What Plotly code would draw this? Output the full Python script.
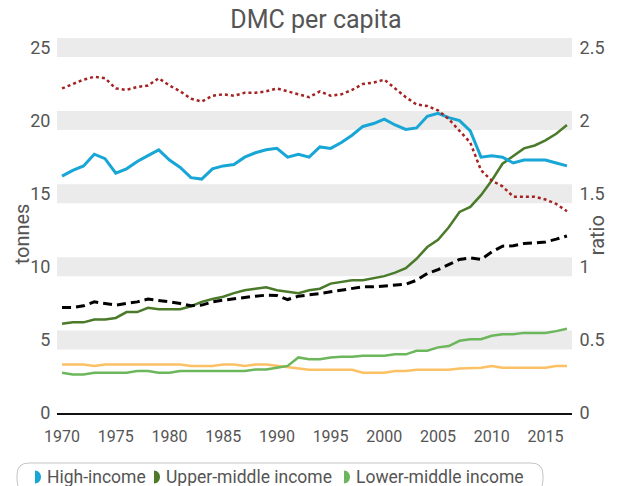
import plotly.graph_objects as go

years = list(range(1970, 2018))

high_income = [16.2, 16.6, 16.9, 17.7, 17.4, 16.4, 16.7, 17.2, 17.6, 18.0,
               17.3, 16.8, 16.1, 16.0, 16.7, 16.9, 17.0, 17.5, 17.8, 18.0,
               18.1, 17.5, 17.7, 17.5, 18.2, 18.1, 18.5, 19.0, 19.6, 19.8,
               20.1, 19.7, 19.4, 19.5, 20.3, 20.5, 20.2, 20.0, 19.3, 17.5,
               17.6, 17.5, 17.1, 17.3, 17.3, 17.3, 17.1, 16.9]
upper_middle = [6.1, 6.2, 6.2, 6.4, 6.4, 6.5, 6.9, 6.9, 7.2, 7.1,
                7.1, 7.1, 7.3, 7.6, 7.8, 7.95, 8.2, 8.4, 8.5, 8.6,
                8.4, 8.3, 8.2, 8.4, 8.5, 8.85, 8.97, 9.08, 9.08, 9.2,
                9.36, 9.6, 9.9, 10.55, 11.35, 11.85, 12.7, 13.75, 14.1, 14.9,
                15.9, 17.05, 17.55, 18.1, 18.3, 18.65, 19.1, 19.7]
lower_middle = [2.76, 2.64, 2.64, 2.76, 2.76, 2.76, 2.76, 2.87, 2.87, 2.76,
                2.76, 2.87, 2.87, 2.87, 2.87, 2.87, 2.87, 2.87, 2.98, 2.98,
                3.1, 3.22, 3.8, 3.67, 3.67, 3.8, 3.85, 3.85, 3.92, 3.92,
                3.92, 4.01, 4.01, 4.26, 4.26, 4.49, 4.58, 4.94, 5.05, 5.05,
                5.28, 5.39, 5.39, 5.48, 5.48, 5.48, 5.6, 5.76]
low_income = [3.32, 3.32, 3.32, 3.22, 3.32, 3.32, 3.32, 3.32, 3.32, 3.32,
              3.32, 3.32, 3.22, 3.22, 3.22, 3.32, 3.32, 3.22, 3.32, 3.32,
              3.22, 3.17, 3.05, 2.96, 2.96, 2.96, 2.96, 2.96, 2.76, 2.76,
              2.76, 2.87, 2.87, 2.96, 2.96, 2.96, 2.96, 3.05, 3.05, 3.1,
              3.22, 3.1, 3.1, 3.1, 3.1, 3.1, 3.22, 3.22]
world = [7.22, 7.22, 7.33, 7.6, 7.49, 7.38, 7.49, 7.6, 7.79, 7.72,
         7.6, 7.49, 7.33, 7.38, 7.6, 7.72, 7.79, 7.9, 7.99, 8.06,
         8.04, 7.76, 7.99, 8.06, 8.17, 8.29, 8.4, 8.51, 8.63, 8.63,
         8.7, 8.74, 8.81, 9.08, 9.54, 9.81, 10.18, 10.5, 10.61, 10.5,
         11.02, 11.41, 11.44, 11.59, 11.63, 11.7, 11.89, 12.11]
# ratio high-income / world, right axis
ratio = [2.22, 2.25, 2.28, 2.30, 2.29, 2.22, 2.21, 2.23, 2.24, 2.29,
         2.24, 2.20, 2.15, 2.13, 2.17, 2.18, 2.17, 2.19, 2.19, 2.20,
         2.22, 2.20, 2.18, 2.16, 2.20, 2.17, 2.18, 2.21, 2.25, 2.26,
         2.28, 2.22, 2.16, 2.11, 2.10, 2.07, 2.01, 1.93, 1.85, 1.66,
         1.59, 1.55, 1.48, 1.48, 1.48, 1.46, 1.43, 1.38]

legend_names = ["High-income", "Upper-middle income", "Lower-middle income"]
left_ticks = [5, 10, 15, 20, 25]

BLUE = "#17a6d6"
DGREEN = "#4a7a2a"
LGREEN = "#6cb65b"
ORANGE = "#fcc164"
RED = "#a52222"
TXT = "#555555"

fig = go.Figure()
fig.add_trace(go.Scatter(x=years, y=low_income, mode="lines",
                         line=dict(color=ORANGE, width=2.5), name="Low-income"))
fig.add_trace(go.Scatter(x=years, y=lower_middle, mode="lines",
                         line=dict(color=LGREEN, width=2.5), name=legend_names[2]))
fig.add_trace(go.Scatter(x=years, y=upper_middle, mode="lines",
                         line=dict(color=DGREEN, width=2.5), name=legend_names[1]))
fig.add_trace(go.Scatter(x=years, y=high_income, mode="lines",
                         line=dict(color=BLUE, width=3), name=legend_names[0]))
fig.add_trace(go.Scatter(x=years, y=world, mode="lines",
                         line=dict(color="black", width=3, dash="9px,5px"), name="World"))
fig.add_trace(go.Scatter(x=years, y=ratio, mode="lines", yaxis="y2",
                         line=dict(color=RED, width=2.5, dash="dot"), name="Ratio"))

# grey bands behind each major tick
for t in left_ticks:
    fig.add_shape(type="rect", xref="paper", x0=0, x1=1, yref="y",
                  y0=t - 0.65, y1=t + 0.65, fillcolor="#ebebeb",
                  line=dict(width=0), layer="below")

# hand-made legend, in pixels relative to the bottom-left of the plot area
L, R, T, B, r = -40, 486, -50, -79, 12
path = (f"M {L+r},{T} L {R-r},{T} Q {R},{T} {R},{T-r} L {R},{B+r} "
        f"Q {R},{B} {R-r},{B} L {L+r},{B} Q {L},{B} {L},{B+r} "
        f"L {L},{T-r} Q {L},{T} {L+r},{T} Z")
fig.add_shape(type="path", path=path, xref="paper", yref="paper",
              xsizemode="pixel", ysizemode="pixel", xanchor=0, yanchor=0,
              line=dict(color="#c4c4c4", width=1))

plot_w = 515
cy, rx, ry, k = -64, 6, 6.5, 0.5523
for name, col, sx in zip(legend_names, [BLUE, DGREEN, LGREEN], [-22, 97, 287]):
    half = (f"M {sx},{cy+ry} C {sx+k*rx},{cy+ry} {sx+rx},{cy+k*ry} {sx+rx},{cy} "
            f"C {sx+rx},{cy-k*ry} {sx+k*rx},{cy-ry} {sx},{cy-ry} Z")
    fig.add_shape(type="path", path=half, xref="paper", yref="paper",
                  xsizemode="pixel", ysizemode="pixel", xanchor=0, yanchor=0,
                  fillcolor=col, line=dict(width=0))
    fig.add_annotation(text=name, xref="paper", yref="paper",
                       x=(sx + 10) / plot_w, y=-0.1704,
                       xanchor="left", yanchor="middle", showarrow=False,
                       font=dict(size=17.5, color=TXT))

# axis titles
fig.add_annotation(text="tonnes", xref="paper", yref="paper", x=-0.068, y=0.479,
                   xanchor="center", yanchor="middle",
                   textangle=-90, showarrow=False, font=dict(size=20, color=TXT))
fig.add_annotation(text="ratio", xref="paper", yref="paper", x=1.0485, y=0.474,
                   xanchor="center", yanchor="middle",
                   textangle=-90, showarrow=False, font=dict(size=20, color=TXT))

# the page body adds an 8px offset, so the margins are shifted by it
fig.update_layout(
    width=622,
    height=486,
    margin=dict(l=49, r=58, t=29.5, b=81),
    paper_bgcolor="white",
    plot_bgcolor="white",
    showlegend=False,
    font=dict(family="Roboto", color=TXT),
    title=dict(text="DMC per capita", x=0.495, xanchor="center", y=0.976,
               yanchor="middle", font=dict(size=25, color=TXT)),
    xaxis=dict(
        range=[1969.53, 2017.47], automargin=False,
        tickvals=[1970, 1975, 1980, 1985, 1990, 1995, 2000, 2005, 2010, 2015],
        showgrid=False, zeroline=False,
        showline=True, linecolor="#111111", linewidth=1.5,
        ticks="outside", ticklen=8, tickcolor="rgba(0,0,0,0)",
        tickfont=dict(size=16, color=TXT),
    ),
    yaxis=dict(
        range=[0, 25.65], dtick=5, showgrid=False, zeroline=False,
        automargin=False,
        ticks="outside", ticklen=2, tickcolor="rgba(0,0,0,0)",
        tickfont=dict(size=18, color=TXT),
    ),
    yaxis2=dict(
        range=[0, 2.565], dtick=0.5, overlaying="y", side="right",
        showgrid=False, zeroline=False, automargin=False,
        ticks="outside", ticklen=3, tickcolor="rgba(0,0,0,0)",
        tickfont=dict(size=18, color=TXT),
    ),
)

fig.write_html("out.html")
